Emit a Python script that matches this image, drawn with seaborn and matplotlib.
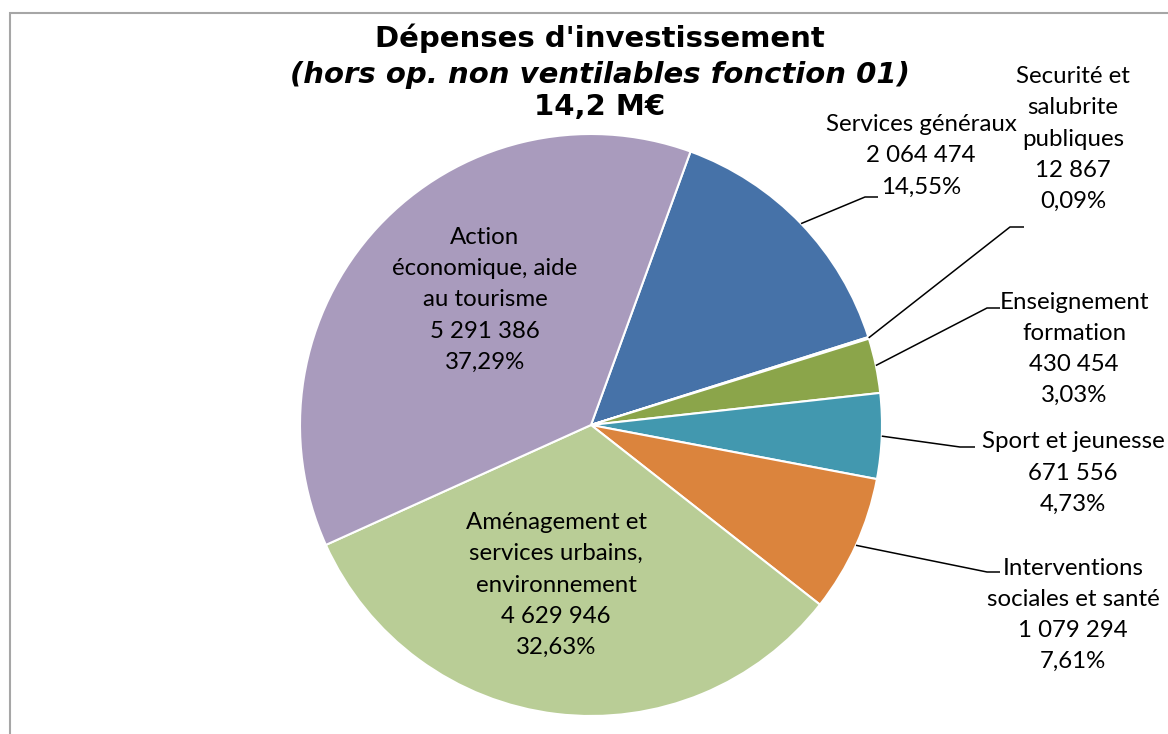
import matplotlib
matplotlib.use("Agg")
import matplotlib.pyplot as plt
import seaborn as sns
import numpy as np
from matplotlib.patches import Rectangle

# ---- data ----
categories = ["Services généraux", "Securité et\nsalubrite\npubliques", "Enseignement\nformation",
              "Sport et jeunesse", "Interventions\nsociales et santé",
              "Aménagement et\nservices urbains,\nenvironnement", "Action\néconomique, aide\nau tourisme"]
values = [2064474, 12867, 430454, 671556, 1079294, 4629946, 5291386]
percents = ["14,55%", "0,09%", "3,03%", "4,73%", "7,61%", "32,63%", "37,29%"]
colors = ["#4672A8", "#A8423F", "#8BA54A", "#4298AF", "#DB843D", "#B9CD96", "#A99BBD"]
title_lines = ["Dépenses d'investissement", "(hors op. non ventilables fonction 01)", "14,2 M€"]

sns.set_theme(style="white")
plt.rcParams['font.family'] = ['Lato', 'DejaVu Sans']

W, H = 1168, 734
fig = plt.figure(figsize=(W / 100, H / 100), dpi=100)
ax = fig.add_axes([0, 0, 1, 1])

cx, cy, R = 591, H - 425, 291
start = 70  # first slice begins 20 deg clockwise from top
wedges, _ = ax.pie(values, colors=colors, startangle=start, counterclock=False,
                   center=(cx, cy), radius=R, frame=True,
                   wedgeprops=dict(edgecolor="white", linewidth=1.5))
ax.set_xlim(0, W)
ax.set_ylim(0, H)
ax.set_aspect("equal")
ax.set_axis_off()

def fmt(v):
    return f"{v:,}".replace(",", " ")

# label layout: (text center x, text center y in px from top, elbow x, elbow y, end x) ; None = inside
layout = [
    (921, 156, 865, 197, 878),
    (1073, 139, 1010, 227, 1024),
    (1074, 349, 987, 308, 1000),
    (1073, 473, 960, 447, 975),
    (1073, 615, 987, 572, 1000),
    (556, 585, None, None, None),
    (485, 300, None, None, None),
]

fs = 17.3
for w, cat, v, p, lay in zip(wedges, categories, values, percents, layout):
    tx, ty, ex, ey, endx = lay
    txt = f"{cat}\n{fmt(v)}\n{p}"
    ax.text(tx, H - ty, txt, ha="center", va="center", fontsize=fs, color="black",
            linespacing=1.6)
    if ex is not None:
        mid = np.deg2rad((w.theta1 + w.theta2) / 2)
        ax_x = cx + R * np.cos(mid)
        ax_y = cy + R * np.sin(mid)
        ax.plot([ax_x, ex, endx], [ax_y, H - ey, H - ey], color="black", lw=1.1,
                solid_capstyle="butt")

# title
tfs = 21
ax.text(600, H - 38, title_lines[0], ha="center", va="center", fontsize=tfs,
        fontweight="bold", family=["DejaVu Sans"], color="black")
ax.text(600, H - 75, title_lines[1], ha="center", va="center", fontsize=tfs,
        fontweight="bold", fontstyle="italic", family=["DejaVu Sans"], color="black")
ax.text(600, H - 107, title_lines[2], ha="center", va="center", fontsize=tfs,
        fontweight="bold", family=["DejaVu Sans"], color="black")

# chart border (clipped at right and bottom)
fig.patches.append(Rectangle((10 / W, -0.1), 1.2, (H - 13) / H + 0.1, transform=fig.transFigure,
                             fill=False, edgecolor="#A6A6A6", lw=1.5))

fig.savefig("out.png", dpi=100, facecolor="white")
